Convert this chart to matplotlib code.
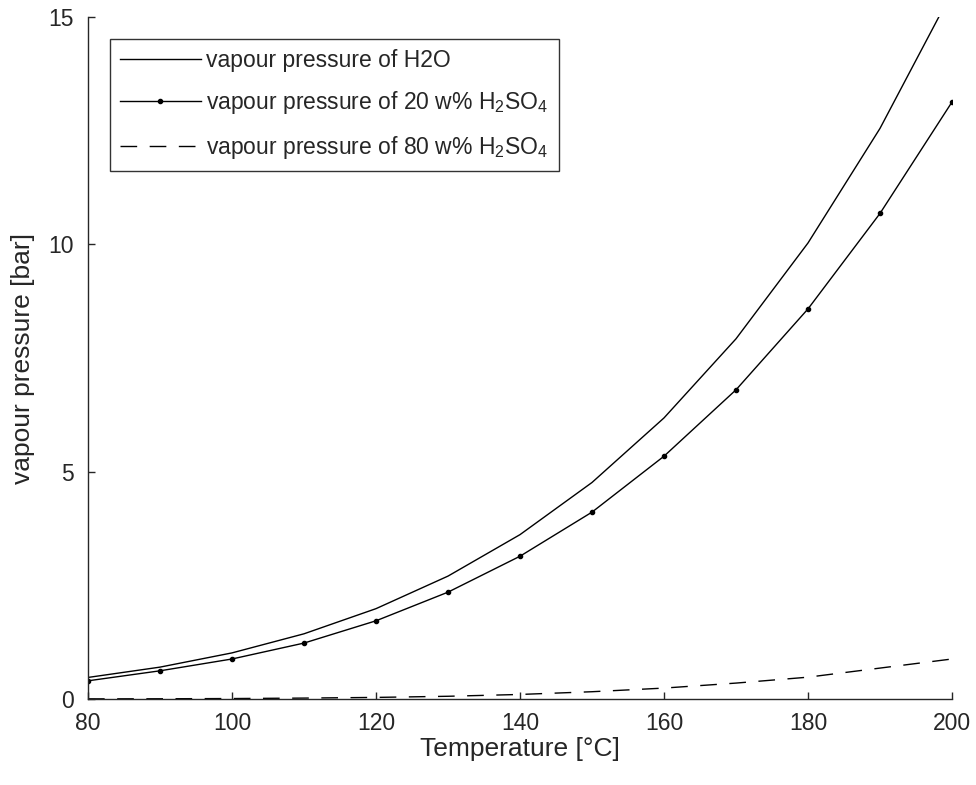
import matplotlib
matplotlib.use("Agg")
import matplotlib.pyplot as plt

plt.rcParams['font.family'] = ['Liberation Sans', 'DejaVu Sans']
plt.rcParams['mathtext.default'] = 'regular'

# temperature [degC]
temp = [80, 90, 100, 110, 120, 130, 140, 150, 160, 170, 180, 190, 200]
# vapour pressure [bar]
p_h2o = [0.474, 0.701, 1.014, 1.434, 1.987, 2.703, 3.615, 4.762, 6.182, 7.922, 10.03, 12.55, 15.55]
p_20 = [0.40, 0.62, 0.88, 1.23, 1.72, 2.35, 3.14, 4.11, 5.34, 6.80, 8.58, 10.68, 13.13]
p_80 = [0.003, 0.005, 0.01, 0.02, 0.035, 0.06, 0.10, 0.16, 0.24, 0.35, 0.48, 0.68, 0.88]

labels = ['vapour pressure of H2O',
          'vapour pressure of 20 w% H$_2$SO$_4$',
          'vapour pressure of 80 w% H$_2$SO$_4$']

grey = '#262626'

fig = plt.figure(figsize=(9.76, 7.85), dpi=100)
ax = fig.add_axes([88/976, 1-699/785, (952-88)/976, (699-17)/785])

ax.plot(temp, p_h2o, color='k', lw=1.0, label=labels[0])
ax.plot(temp, p_20, color='k', lw=1.0, marker='.', markersize=6, label=labels[1])
ax.plot(temp, p_80, color='k', lw=1.0, dashes=(12, 9), label=labels[2])

ax.set_xlim(80, 200)
ax.set_ylim(0, 15)
ax.set_xticks([80, 100, 120, 140, 160, 180, 200])
ax.set_yticks([0, 5, 10, 15])

for s in ['top', 'right']:
    ax.spines[s].set_visible(False)
for s in ['left', 'bottom']:
    ax.spines[s].set_color(grey)
    ax.spines[s].set_linewidth(1.0)

ax.tick_params(direction='in', length=5, width=1.0, colors=grey, labelsize=16.5)
ax.tick_params(axis='x', pad=9)
ax.tick_params(axis='y', pad=10)

ax.set_xlabel('Temperature [°C]', fontsize=19, color=grey, labelpad=2)
ax.set_ylabel('vapour pressure [bar]', fontsize=19, color=grey, labelpad=10)

leg = ax.legend(loc='upper left', bbox_to_anchor=(110/976, 1-39/785),
                bbox_transform=fig.transFigure, borderaxespad=0,
                fontsize=16.5, frameon=True, fancybox=False,
                edgecolor='k', handlelength=3.5, handletextpad=0.25,
                labelspacing=0.75, borderpad=0.45)
leg.get_frame().set_linewidth(1.0)
for t in leg.get_texts():
    t.set_color(grey)

fig.savefig('out.png', dpi=100)
